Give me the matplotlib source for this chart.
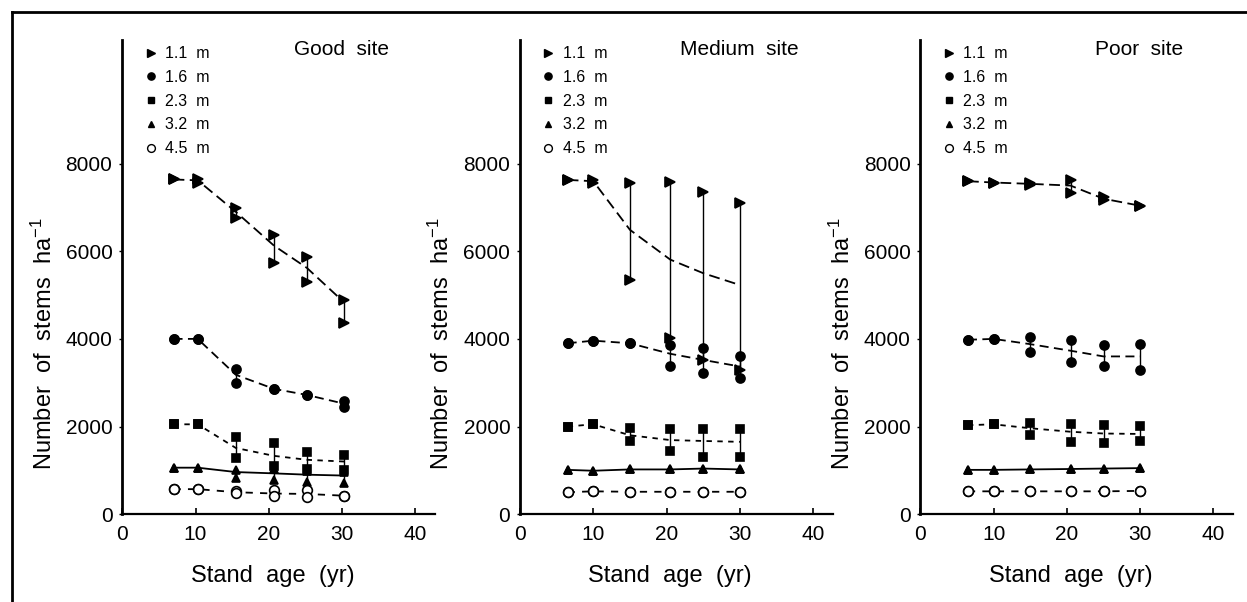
import numpy as np
import matplotlib
matplotlib.use("Agg")
import matplotlib.pyplot as plt
from matplotlib.lines import Line2D

plt.rcParams['font.family'] = ['Liberation Sans', 'DejaVu Sans']
plt.rcParams['mathtext.default'] = 'regular'

# spacing classes (m) and site names
classes = ['1.1  m', '1.6  m', '2.3  m', '3.2  m', '4.5  m']
sites = ['Good  site', 'Medium  site', 'Poor  site']

good_age = [7, 10.3, 15.5, 20.7, 25.2, 30.3]
med_age = [6.5, 10, 15, 20.5, 25, 30]
poor_age = [6.5, 10, 15, 20.5, 25, 30]

# rows follow classes; upper/lower = the two plots, mean = dashed line
good_upper = [[7640, 7640, 6990, 6380, 5880, 4890],
              [4000, 4000, 3310, 2860, 2720, 2590],
              [2050, 2050, 1750, 1620, 1420, 1350],
              [1060, 1060, 1000, 1020, 990, 960],
              [570, 570, 530, 540, 540, 420]]
good_lower = [[7640, 7560, 6770, 5740, 5310, 4370],
              [4000, 4000, 2990, 2860, 2720, 2450],
              [2050, 2050, 1290, 1100, 1040, 1010],
              [1060, 1060, 820, 790, 740, 700],
              [570, 570, 480, 410, 400, 410]]
good_mean = [[7640, 7620, 6900, 6130, 5620, 4830],
             [4000, 4000, 3180, 2860, 2720, 2520],
             [2050, 2050, 1510, 1330, 1240, 1200],
             [1060, 1060, 960, 930, 900, 880],
             [570, 570, 500, 470, 460, 420]]

med_upper = [[7630, 7620, 7560, 7580, 7360, 7100],
             [3900, 3960, 3900, 3860, 3790, 3610],
             [2000, 2050, 1960, 1940, 1940, 1940],
             [1010, 990, 1020, 1020, 1040, 1020],
             [500, 520, 510, 510, 510, 510]]
med_lower = [[7630, 7560, 5350, 4020, 3520, 3290],
             [3900, 3960, 3900, 3370, 3230, 3100],
             [2000, 2050, 1680, 1430, 1300, 1310],
             [1010, 990, 1020, 1020, 1040, 1020],
             [500, 520, 510, 510, 510, 510]]
med_mean = [[7630, 7600, 6490, 5810, 5500, 5230],
            [3900, 3960, 3900, 3660, 3520, 3370],
            [2000, 2050, 1800, 1690, 1670, 1650],
            [1010, 990, 1020, 1020, 1040, 1020],
            [500, 520, 510, 510, 510, 510]]

poor_upper = [[7600, 7570, 7560, 7620, 7230, 7040],
              [3980, 4000, 4040, 3980, 3850, 3890],
              [2030, 2050, 2090, 2050, 2030, 2020],
              [1010, 1010, 1020, 1030, 1040, 1050],
              [520, 520, 520, 520, 520, 530]]
poor_lower = [[7600, 7570, 7520, 7330, 7160, 7040],
              [3980, 4000, 3700, 3470, 3380, 3290],
              [2030, 2050, 1810, 1650, 1630, 1670],
              [1010, 1010, 1020, 1030, 1040, 1050],
              [520, 520, 520, 520, 520, 530]]
poor_mean = [[7600, 7570, 7540, 7500, 7200, 7040],
             [3980, 4000, 3880, 3730, 3600, 3600],
             [2030, 2050, 1960, 1880, 1840, 1830],
             [1010, 1010, 1020, 1030, 1040, 1050],
             [520, 520, 520, 520, 520, 530]]

markers = ['>', 'o', 's', '^', 'o']
fills = ['black', 'black', 'black', 'black', 'white']
msizes = [6.5, 6.5, 5.5, 6, 7]
styles = [(0, (6, 3)), (0, (5, 3)), (0, (3, 3)), '-', (0, (4, 4))]

panels = [(good_age, good_upper, good_lower, good_mean),
          (med_age, med_upper, med_lower, med_mean),
          (poor_age, poor_upper, poor_lower, poor_mean)]
lefts = [0.098, 0.417, 0.738]

fig = plt.figure(figsize=(12.47, 6.02), dpi=100)

for k, (age, up, lo, mn) in enumerate(panels):
    ax = fig.add_axes([lefts[k], 0.146, 0.251, 0.788])
    for i in range(len(classes)):
        ax.plot(age, mn[i], color='black', lw=1.3, ls=styles[i], zorder=2)
        ax.vlines(age, lo[i], up[i], color='black', lw=1.0, zorder=2)
        for vals in (up[i], lo[i]):
            ax.plot(age, vals, ls='none', marker=markers[i], ms=msizes[i],
                    mfc=fills[i], mec='black', mew=1.2, zorder=3)

    ax.set_xlim(0, 42.7)
    ax.set_ylim(0, 10830)
    ax.set_xticks([0, 10, 20, 30, 40])
    ax.set_yticks([0, 2000, 4000, 6000, 8000])
    ax.spines['top'].set_visible(False)
    ax.spines['right'].set_visible(False)
    ax.spines['left'].set_linewidth(2.0)
    ax.spines['bottom'].set_linewidth(1.6)
    ax.tick_params(axis='x', direction='in', length=4, width=1.2, labelsize=15, pad=8)
    ax.tick_params(axis='y', direction='out', length=2, width=1.0, labelsize=15, pad=5)

    ax.set_xlabel('Stand  age  (yr)', fontsize=17)
    ax.xaxis.set_label_coords(0.48, -0.108)
    ax.set_ylabel('Number  of  stems  ha$^{-1}$', fontsize=17)
    ax.yaxis.set_label_coords(-0.21, 0.36)

    ax.text(0.70, 1.0, sites[k], transform=ax.transAxes, fontsize=15,
            ha='center', va='top')

    handles = [Line2D([], [], ls='none', marker=markers[i], ms=msizes[i] * 0.8,
                      mfc=fills[i], mec='black', mew=1.0) for i in range(5)]
    ax.legend(handles, classes, loc='upper left', bbox_to_anchor=(0.05, 1.0),
              frameon=False, fontsize=11.5, handlelength=0.8, handletextpad=0.5,
              labelspacing=0.55, borderpad=0.2, borderaxespad=0.2)

# frame lines of the original figure (top and left)
fig.add_artist(Line2D([0.0094, 0.0094], [0, 0.9806], color='black', lw=2,
                      transform=fig.transFigure))
fig.add_artist(Line2D([0.0094, 1.0], [0.9806, 0.9806], color='black', lw=2,
                      transform=fig.transFigure))

fig.savefig('out.png', dpi=100)
